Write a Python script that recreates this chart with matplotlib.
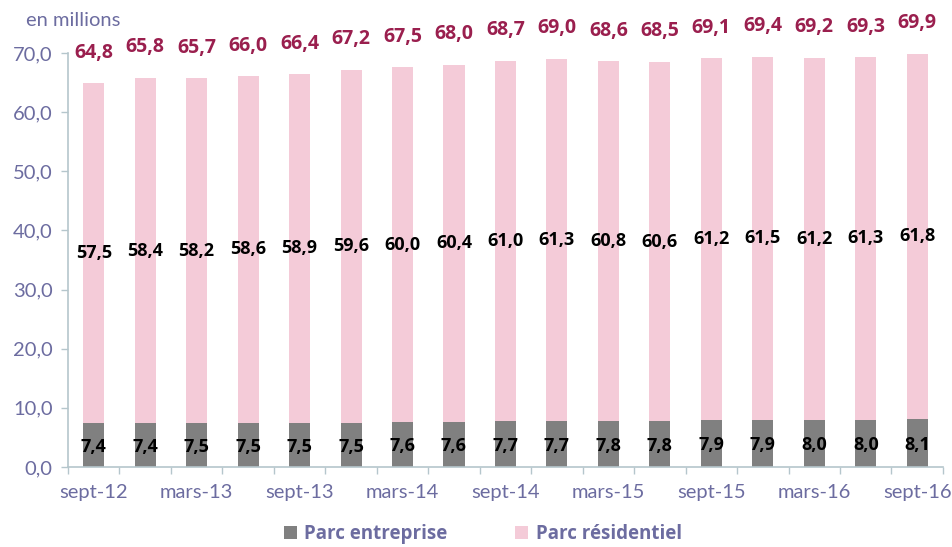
import matplotlib.pyplot as plt
import numpy as np

periodes = ["sept-12", "déc-12", "mars-13", "juin-13", "sept-13", "déc-13", "mars-14", "juin-14",
            "sept-14", "déc-14", "mars-15", "juin-15", "sept-15", "déc-15", "mars-16", "juin-16", "sept-16"]
entreprise = [7.4, 7.4, 7.5, 7.5, 7.5, 7.5, 7.6, 7.6, 7.7, 7.7, 7.8, 7.8, 7.9, 7.9, 8.0, 8.0, 8.1]
residentiel = [57.5, 58.4, 58.2, 58.6, 58.9, 59.6, 60.0, 60.4, 61.0, 61.3, 60.8, 60.6, 61.2, 61.5, 61.2, 61.3, 61.8]
total = [64.8, 65.8, 65.7, 66.0, 66.4, 67.2, 67.5, 68.0, 68.7, 69.0, 68.6, 68.5, 69.1, 69.4, 69.2, 69.3, 69.9]

gris = "#808080"
rose = "#F4CBD8"
bordeaux = "#9A1F4E"
violet = "#6C6CA0"
axe = "#B5C6CC"
gras = ["Open Sans", "DejaVu Sans"]

plt.rcParams['font.family'] = ['Lato', 'DejaVu Sans']

fig = plt.figure(figsize=(9.52, 5.47), dpi=100)
ax = fig.add_axes([0.0714, 0.1463, 0.9191, 0.7568])

x = np.arange(len(periodes))
b1 = ax.bar(x, entreprise, width=0.41, color=gris, label="Parc entreprise")
b2 = ax.bar(x, residentiel, width=0.41, bottom=entreprise, color=rose, label="Parc résidentiel")

for i in x:
    ax.text(i, entreprise[i] / 2 - 0.3, f"{entreprise[i]:.1f}".replace(".", ","), ha="center", va="center",
            fontsize=13, fontweight="bold", family=gras, color="black")
    ax.text(i, entreprise[i] + residentiel[i] / 2, f"{residentiel[i]:.1f}".replace(".", ","),
            ha="center", va="center", fontsize=13, fontweight="bold", family=gras, color="black")
    ax.annotate(f"{total[i]:.1f}".replace(".", ","), (i, total[i]), xytext=(0, 22),
                textcoords="offset points", ha="center", va="center", fontsize=14,
                fontweight="bold", family=gras, color=bordeaux, annotation_clip=False)

ax.set_xlim(-0.5, len(periodes) - 0.5)
ax.set_ylim(0, 70)
ax.set_yticks(np.arange(0, 71, 10))
ax.set_yticklabels([f"{v:.1f}".replace(".", ",") for v in np.arange(0, 71, 10)])
ax.set_xticks(x[::2])
ax.set_xticklabels(periodes[::2])
ax.set_xticks(np.arange(-0.5, len(periodes)), minor=True)
ax.tick_params(axis="x", which="major", length=0, pad=12)
ax.tick_params(axis="x", which="minor", length=5, color=axe, width=1)
ax.tick_params(axis="y", length=5, color=axe, width=1, pad=6)
ax.tick_params(labelsize=14.5, labelcolor=violet)

for s in ["top", "right"]:
    ax.spines[s].set_visible(False)
for s in ["left", "bottom"]:
    ax.spines[s].set_color(axe)
    ax.spines[s].set_linewidth(1.2)

fig.text(0.027, 0.962, "en millions", fontsize=14.5, color=violet, ha="left", va="center")

leg = fig.legend(handles=[b1, b2], loc="center", bbox_to_anchor=(0.507, 0.024), ncol=2, frameon=False,
                 handlelength=0.7, handleheight=0.7, columnspacing=3.6, handletextpad=0.4,
                 prop={"size": 13.5, "weight": "bold", "family": gras})
for t in leg.get_texts():
    t.set_color(violet)

fig.savefig("out.png", dpi=100)
